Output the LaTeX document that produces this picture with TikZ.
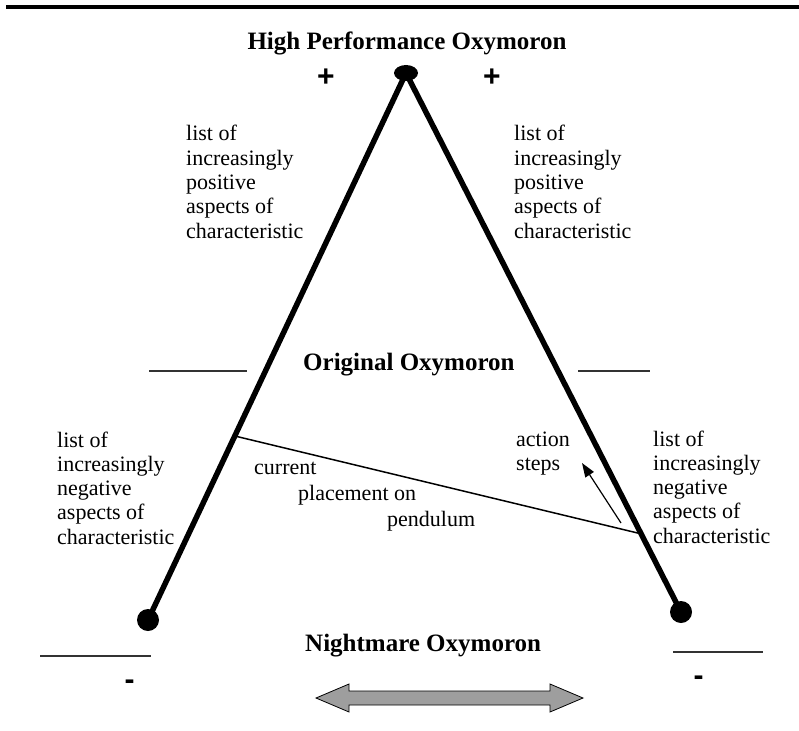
\documentclass[tikz,border=0pt]{standalone}
\usepackage{fontspec}
\setmainfont{Liberation Serif}
\newfontfamily\signfont{Liberation Sans}
\usetikzlibrary{shapes.geometric,arrows.meta,calc}
\newcommand\mylines[1]{\begin{tabular}[t]{@{}l@{}}#1\end{tabular}}
\begin{document}
\begin{tikzpicture}[x=1pt,y=-1pt,
  body/.style={font=\fontsize{22}{24.3}\selectfont, inner sep=0pt, anchor=base west},
  head/.style={font=\fontsize{25}{30}\selectfont\bfseries, inner sep=0pt},
  sign/.style={font=\signfont\fontsize{30}{34}\selectfont\bfseries, inner sep=0pt},
  pend/.style={line width=5.5pt},
  rule/.style={line width=1.2pt, black!80},
  dot/.style={circle, fill=black, inner sep=0pt, minimum size=22pt},
  bob/.style={ellipse, fill=black, inner sep=0pt, minimum width=24pt, minimum height=16pt}
]
\useasboundingbox (0,0) rectangle (799,730);
% top rule
\draw[line width=4pt] (6,7) -- (799,7);
% title
\node[head, anchor=base] (title) at (407,50) {High Performance Oxymoron};
\node[sign] (plusL) at (326,78) {+};
\node[sign] (plusR) at (492,78) {+};
% pendulum
\node[bob] (top) at (406,73) {};
\node[dot] (ldot) at (148,620) {};
\node[dot] (rdot) at (681,612) {};
\draw[pend] (top.center) -- (ldot.center);
\draw[pend] (top.center) -- (rdot.center);
% crossbar
\coordinate (cl) at ($(top.center)!0.6636!(ldot.center)$);
\coordinate (cr) at ($(top.center)!0.855!(rdot.center)$);
\draw[line width=1.5pt] (cl) -- (cr);
% text blocks
\node[body] (tl) at (186,141) {\mylines{list of\\increasingly\\positive\\aspects of\\characteristic}};
\node[body] (tr) at (514,141) {\mylines{list of\\increasingly\\positive\\aspects of\\characteristic}};
\node[body] (bl) at (57,447) {\mylines{list of\\increasingly\\negative\\aspects of\\characteristic}};
\node[body] (br) at (653,446) {\mylines{list of\\increasingly\\negative\\aspects of\\characteristic}};
\node[body] (act) at (516,446) {\mylines{action\\steps}};
\node[body] (cur1) at (254,474) {current};
\node[body] (cur2) at (298,500) {placement on};
\node[body] (cur3) at (387,526) {pendulum};
% middle labels
\node[head, anchor=base west] (orig) at (303,370) {Original Oxymoron};
\node[head, anchor=base west] (night) at (305,651) {Nightmare Oxymoron};
% rules
\coordinate (r1a) at (149,371); \coordinate (r1b) at (247,371);
\coordinate (r2a) at (578,371); \coordinate (r2b) at (650,371);
\coordinate (r3a) at (40,656); \coordinate (r3b) at (151,656);
\coordinate (r4a) at (673,652); \coordinate (r4b) at (763,652);
\draw[rule] (r1a) -- (r1b);
\draw[rule] (r2a) -- (r2b);
\draw[rule] (r3a) -- (r3b);
\draw[rule] (r4a) -- (r4b);
\node[sign] (minL) at (129.5,685) {-};
\node[sign] (minR) at (698.5,681) {-};
% action arrow
\coordinate (aa) at (621,523);
\coordinate (ab) at (582,463);
\draw[line width=1.2pt, -{Triangle[length=14pt,width=10pt]}] (aa) -- (ab);
% double arrow
\draw[fill=black!38, line width=0.8pt] (316,698) -- (349,684) -- (349,691) -- (550,691) -- (550,684) -- (583,698) -- (550,712) -- (550,705) -- (349,705) -- (349,712) -- cycle;
\end{tikzpicture}
\end{document}
